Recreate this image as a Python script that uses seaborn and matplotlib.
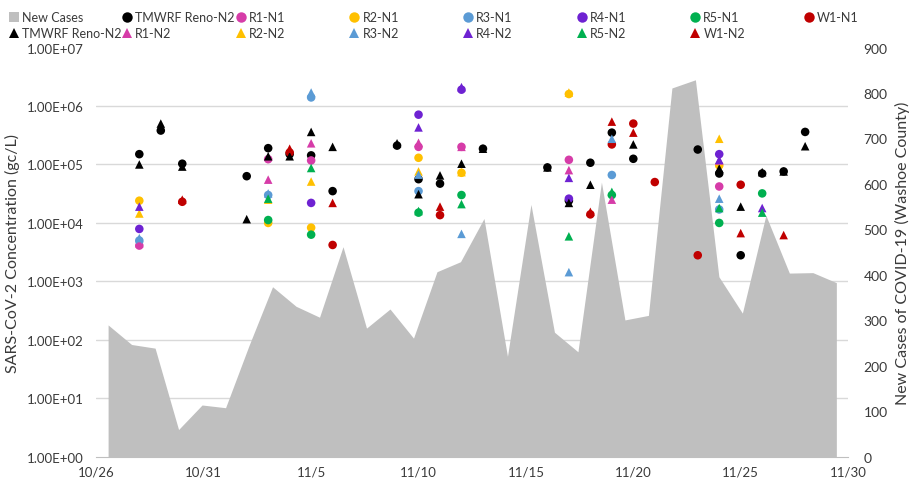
import numpy as np
import pandas as pd
import matplotlib
matplotlib.use('Agg')
import matplotlib.pyplot as plt
import matplotlib.ticker as mticker
import matplotlib.dates as mdates
from matplotlib.lines import Line2D
import seaborn as sns

# New cases per day (Washoe County), 32 daily values on the secondary axis
new_cases = [290, 247, 239, 60, 114, 108, 245, 374, 331, 307, 462, 283, 325, 261, 407, 429,
             524, 221, 555, 274, 231, 604, 301, 311, 811, 829, 396, 316, 531, 404, 405, 383]

# SARS-CoV-2 concentration (gc/L) by sampling date
tmwrf_n1 = {'10/28': 1.5e5, '10/29': 3.8e5, '10/30': 1.03e5, '11/02': 6.3e4, '11/03': 1.9e5,
            '11/04': 1.5e5, '11/05': 1.43e5, '11/06': 3.5e4, '11/09': 2.1e5, '11/10': 5.6e4,
            '11/11': 4.7e4, '11/13': 1.86e5, '11/16': 8.9e4, '11/17': 2.4e4, '11/18': 1.07e5,
            '11/19': 3.5e5, '11/20': 1.25e5, '11/23': 1.8e5, '11/24': 7.0e4, '11/25': 2.8e3,
            '11/26': 7.0e4, '11/27': 7.6e4, '11/28': 3.6e5}
tmwrf_n2 = {'10/28': 1.0e5, '10/29': 5.0e5, '10/30': 9.2e4, '11/02': 1.16e4, '11/03': 1.38e5,
            '11/04': 1.38e5, '11/05': 3.6e5, '11/06': 2.0e5, '11/09': 2.3e5, '11/10': 3.1e4,
            '11/11': 6.5e4, '11/12': 1.03e5, '11/13': 1.86e5, '11/16': 8.9e4, '11/17': 2.2e4,
            '11/18': 4.5e4, '11/20': 2.2e5, '11/24': 8.5e4, '11/25': 1.9e4, '11/26': 7.4e4,
            '11/27': 7.6e4, '11/28': 2.05e5}
r1_n1 = {'10/28': 4.1e3, '11/03': 1.23e5, '11/05': 1.17e5, '11/10': 2.0e5, '11/12': 2.0e5,
         '11/17': 1.2e5, '11/24': 4.2e4}
r1_n2 = {'10/28': 4.5e3, '11/03': 5.5e4, '11/05': 2.3e5, '11/10': 2.35e5, '11/12': 2.0e5,
         '11/17': 8.0e4, '11/19': 2.5e4, '11/24': 1.17e5}
r2_n1 = {'10/28': 2.4e4, '11/03': 1.0e4, '11/05': 8.3e3, '11/10': 1.3e5, '11/12': 7.2e4,
         '11/17': 1.6e6, '11/24': 9.6e4}
r2_n2 = {'10/28': 1.45e4, '11/03': 2.5e4, '11/05': 5.1e4, '11/10': 7.6e4, '11/12': 7.4e4,
         '11/17': 1.7e6, '11/24': 2.75e5}
r3_n1 = {'10/28': 5.0e3, '11/03': 3.0e4, '11/05': 1.4e6, '11/10': 3.5e4, '11/19': 6.6e4,
         '11/24': 1.7e4}
r3_n2 = {'10/28': 5.5e3, '11/03': 3.2e4, '11/05': 1.7e6, '11/10': 6.7e4, '11/12': 6.5e3,
         '11/17': 1.44e3, '11/19': 2.75e5, '11/24': 2.6e4}
r4_n1 = {'10/28': 7.9e3, '11/05': 2.2e4, '11/10': 7.1e5, '11/12': 1.9e6, '11/17': 2.6e4,
         '11/24': 1.5e5}
r4_n2 = {'10/28': 1.9e4, '11/10': 4.3e5, '11/12': 2.1e6, '11/17': 5.9e4, '11/24': 1.2e5,
         '11/26': 1.8e4}
r5_n1 = {'11/03': 1.12e4, '11/05': 6.3e3, '11/10': 1.5e4, '11/12': 3.0e4, '11/19': 3.0e4,
         '11/24': 1.0e4, '11/26': 3.2e4}
r5_n2 = {'11/03': 2.6e4, '11/05': 8.7e4, '11/10': 1.6e4, '11/12': 2.1e4, '11/17': 5.9e3,
         '11/19': 3.4e4, '11/24': 1.8e4, '11/26': 1.5e4}
w1_n1 = {'10/30': 2.3e4, '11/04': 1.6e5, '11/06': 4.2e3, '11/11': 1.36e4, '11/18': 1.4e4,
         '11/19': 2.2e5, '11/20': 5.0e5, '11/21': 5.0e4, '11/23': 2.8e3, '11/25': 4.5e4}
w1_n2 = {'10/30': 2.5e4, '11/04': 1.86e5, '11/06': 2.2e4, '11/11': 1.9e4, '11/18': 1.55e4,
         '11/19': 5.4e5, '11/20': 3.5e5, '11/25': 6.7e3, '11/27': 6.2e3}

sites = ['TMWRF Reno', 'R1', 'R2', 'R3', 'R4', 'R5', 'W1']
n1_series = [tmwrf_n1, r1_n1, r2_n1, r3_n1, r4_n1, r5_n1, w1_n1]
n2_series = [tmwrf_n2, r1_n2, r2_n2, r3_n2, r4_n2, r5_n2, w1_n2]
site_colors = ['#000000', '#D63CA8', '#FFC000', '#5B9BD5', '#6E22D2', '#00B050', '#C00000']

# long table: all N1 circles first, then N2 triangles (Excel drawing order)
rows = []
for gene, group in [('N1', n1_series), ('N2', n2_series)]:
    for site, series in zip(sites, group):
        for d, v in series.items():
            rows.append((site, gene, pd.to_datetime('2020/' + d), v))
conc = pd.DataFrame(rows, columns=['site', 'gene', 'date', 'gc_per_l'])

start = pd.Timestamp('2020-10-26')
end = pd.Timestamp('2020-11-30')
# area uses a category axis: 32 evenly spaced categories over the date range
case_x = start + pd.to_timedelta((np.arange(len(new_cases)) + 0.5) * 35 / len(new_cases), unit='D')

sns.set_style('white')
plt.rcParams['font.family'] = ['Lato', 'DejaVu Sans']
text_col = '#3a3a3a'

fig, ax = plt.subplots(figsize=(9.09, 4.85), dpi=100)
fig.subplots_adjust(left=0.106, right=0.933, bottom=0.056, top=0.90)
ax2 = ax.twinx()
ax.set_zorder(2)
ax2.set_zorder(1)
ax.patch.set_visible(False)

# secondary axis: new cases area + the log gridlines underneath it
ax2.fill_between(case_x, new_cases, 0, color='#BFBFBF', linewidth=0)
ax2.set_ylim(0, 900)
ax2.yaxis.set_major_locator(mticker.MultipleLocator(100))
ax2.yaxis.set_minor_locator(mticker.FixedLocator(np.arange(1, 8) * 900 / 7))
ax2.grid(which='minor', axis='y', color='#D9D9D9', linewidth=1)
ax2.grid(which='major', visible=False)
ax2.set_axisbelow(True)
ax2.tick_params(axis='y', which='both', length=0, labelsize=10, pad=11, colors=text_col)
ax2.set_ylabel('New Cases of COVID-19 (Washoe County)', fontsize=11.5, color=text_col)
ax2.yaxis.set_label_coords(1.062, 0.5)

# primary axis: concentrations
sns.scatterplot(data=conc, x='date', y='gc_per_l', hue='site', style='gene',
                hue_order=sites, palette=site_colors, markers={'N1': 'o', 'N2': '^'},
                s=38, linewidth=0, legend=False, ax=ax)
ax.set_yscale('log')
ax.set_ylim(1, 1e7)
ax.yaxis.set_major_locator(mticker.LogLocator(base=10, numticks=10))
ax.yaxis.set_minor_locator(mticker.NullLocator())
ax.yaxis.set_major_formatter(mticker.FuncFormatter(lambda v, p: f'{v:.2E}'))
ax.grid(False)
ax.set_xlim(start, end)
ax.xaxis.set_major_locator(mticker.FixedLocator(mdates.date2num(pd.date_range(start, end, freq='5D'))))
ax.xaxis.set_major_formatter(mticker.FuncFormatter(
    lambda v, p: f'{mdates.num2date(v).month}/{mdates.num2date(v).day}'))
ax.tick_params(axis='x', length=5, color='#BFBFBF', labelsize=9.5, pad=1, labelcolor=text_col)
ax.tick_params(axis='y', length=0, labelsize=9.5, pad=9, labelcolor=text_col)
ax.set_xlabel('')
ax.set_ylabel('SARS-CoV-2 Concentration (gc/L)', fontsize=11.5, color=text_col)
ax.yaxis.set_label_coords(-0.102, 0.5)

for a in (ax, ax2):
    for side in ['top', 'left', 'right', 'bottom']:
        a.spines[side].set_visible(False)
ax.spines['bottom'].set_visible(True)
ax.spines['bottom'].set_color('#BFBFBF')

# legend laid out like Excel: 8 equal columns, two rows
def mk(marker, color):
    return Line2D([], [], linestyle='none', marker=marker, color=color, markersize=7.5,
                  markeredgewidth=0)

row1 = [(mk('s', '#BFBFBF'), 'New Cases'), (mk('o', '#000000'), 'TMWRF Reno-N2')]
row1 += [(mk('o', c), f'{s}-N1') for s, c in zip(sites[1:], site_colors[1:])]
row2 = [(mk('^', c), f'{s}-N2') for s, c in zip(sites, site_colors)]

for k in range(8):
    entries = [row1[k]] + ([row2[k]] if k < len(row2) else [])
    x0 = (14 + 113.6 * k - 6) / 909
    fig.legend([e[0] for e in entries], [e[1] for e in entries],
               loc='upper left', bbox_to_anchor=(x0, 1 - 12 / 485), frameon=False,
               fontsize=9, handlelength=0.9, handletextpad=0.2, borderpad=0,
               borderaxespad=0, labelspacing=0.35, labelcolor=text_col)

fig.savefig('out.png', dpi=100)
